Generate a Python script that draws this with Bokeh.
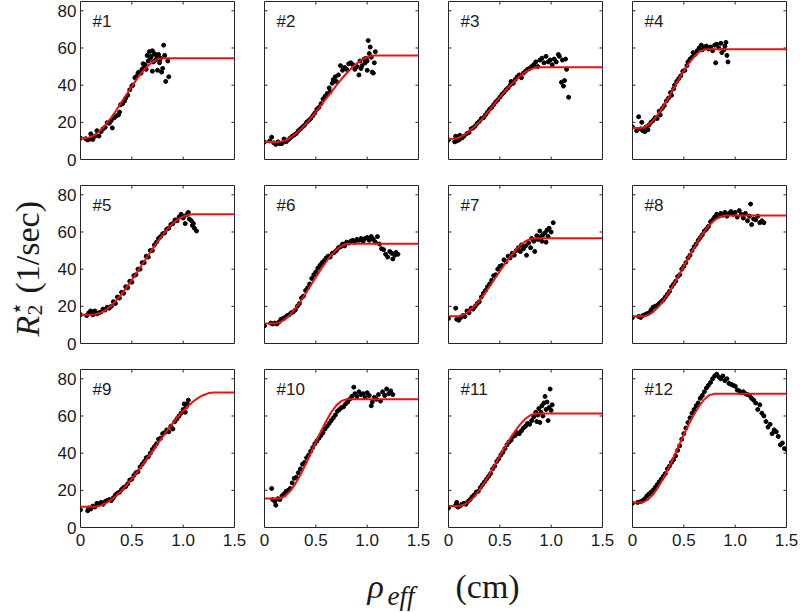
import math
from bokeh.plotting import figure
from bokeh.layouts import column, row
from bokeh.models import Range1d, LinearAxis, FixedTicker, Label
from bokeh.embed import file_html
from bokeh.resources import INLINE

# ---------------- data ----------------
X_RANGE = (0, 1.5)
Y_RANGE = (0, 85)
X_TICKS = [0, 0.5, 1.0, 1.5]
X_TICK_LABELS = ["0", "0.5", "1.0", "1.5"]
Y_TICKS = [0, 20, 40, 60, 80]
Y_TICK_LABELS = ["0", "20", "40", "60", "80"]
PANEL_LABELS = ["#1", "#2", "#3", "#4", "#5", "#6", "#7", "#8", "#9", "#10", "#11", "#12"]

CURVE_X = [0.0, 0.05, 0.1, 0.15, 0.2, 0.25, 0.3, 0.35, 0.4, 0.45, 0.5, 0.55, 0.6, 0.65, 0.7, 0.75,
           0.8, 0.85, 0.9, 0.95, 1.0, 1.05, 1.1, 1.15, 1.2, 1.25, 1.3, 1.35, 1.4, 1.45, 1.5]

FIT_1 = [11.5, 11.5, 12.0, 13.6, 16.0, 19.0, 22.6, 26.6, 30.9, 35.1, 39.4, 43.4, 47.0, 50.0, 52.4, 53.9,
         54.5, 54.5, 54.5, 54.5, 54.5, 54.5, 54.5, 54.5, 54.5, 54.5, 54.5, 54.5, 54.5, 54.5, 54.5]
FIT_2 = [9.4, 9.4, 9.4, 9.5, 10.3, 11.7, 13.7, 16.1, 19.0, 22.1, 25.5, 29.1, 32.7, 36.3, 39.9, 43.3,
         46.4, 49.3, 51.7, 53.7, 55.1, 55.9, 56.0, 56.0, 56.0, 56.0, 56.0, 56.0, 56.0, 56.0, 56.0]
FIT_3 = [11.0, 11.1, 11.7, 13.1, 15.0, 17.4, 20.2, 23.3, 26.6, 30.0, 33.4, 36.7, 39.8, 42.6, 45.1, 47.2,
         48.6, 49.5, 49.6, 49.6, 49.6, 49.6, 49.6, 49.6, 49.6, 49.6, 49.6, 49.6, 49.6, 49.6, 49.6]
FIT_4 = [17.0, 17.0, 17.1, 18.4, 20.9, 24.4, 28.6, 33.2, 38.2, 43.1, 47.7, 51.9, 55.4, 57.9, 59.2, 59.3,
         59.3, 59.3, 59.3, 59.3, 59.3, 59.3, 59.3, 59.3, 59.3, 59.3, 59.3, 59.3, 59.3, 59.3, 59.3]
FIT_5 = [15.5, 15.5, 15.5, 15.7, 16.6, 18.2, 20.5, 23.3, 26.6, 30.3, 34.2, 38.3, 42.5, 46.7, 50.8, 54.7,
         58.4, 61.7, 64.5, 66.8, 68.4, 69.3, 69.5, 69.5, 69.5, 69.5, 69.5, 69.5, 69.5, 69.5, 69.5]
FIT_6 = [10.7, 10.7, 10.7, 11.3, 13.0, 15.5, 18.8, 22.6, 26.8, 31.3, 35.7, 40.0, 44.0, 47.5, 50.4, 52.5,
         53.5, 53.6, 53.6, 53.6, 53.6, 53.6, 53.6, 53.6, 53.6, 53.6, 53.6, 53.6, 53.6, 53.6, 53.6]
FIT_7 = [14.6, 14.6, 14.7, 15.6, 17.4, 20.0, 23.1, 26.7, 30.7, 34.8, 38.9, 42.9, 46.7, 50.0, 52.9, 55.0,
         56.3, 56.6, 56.6, 56.6, 56.6, 56.6, 56.6, 56.6, 56.6, 56.6, 56.6, 56.6, 56.6, 56.6, 56.6]
FIT_8 = [14.6, 14.6, 14.6, 15.2, 16.9, 19.6, 23.1, 27.2, 31.7, 36.6, 41.7, 46.8, 51.6, 56.2, 60.3, 63.8,
         66.4, 68.1, 68.8, 68.8, 68.8, 68.8, 68.8, 68.8, 68.8, 68.8, 68.8, 68.8, 68.8, 68.8, 68.8]
FIT_9 = [11.1, 11.1, 11.1, 11.2, 11.9, 13.2, 15.0, 17.2, 19.8, 22.8, 26.1, 29.6, 33.4, 37.2, 41.1, 45.0,
         48.8, 52.6, 56.2, 59.6, 62.7, 65.5, 67.9, 69.9, 71.3, 72.3, 72.6, 72.6, 72.6, 72.6, 72.6]
FIT_10 = [15.6, 15.6, 15.6, 15.6, 16.8, 19.6, 23.5, 28.4, 33.9, 39.9, 45.9, 51.8, 57.2, 62.0, 65.7, 68.1,
          69.0, 69.0, 69.0, 69.0, 69.0, 69.0, 69.0, 69.0, 69.0, 69.0, 69.0, 69.0, 69.0, 69.0, 69.0]
FIT_11 = [11.6, 11.6, 11.6, 12.2, 14.0, 16.6, 20.1, 24.2, 28.7, 33.5, 38.4, 43.2, 47.8, 52.0, 55.6, 58.5,
          60.5, 61.3, 61.3, 61.3, 61.3, 61.3, 61.3, 61.3, 61.3, 61.3, 61.3, 61.3, 61.3, 61.3, 61.3]
FIT_12 = [13.4, 13.4, 13.5, 15.0, 17.7, 21.7, 26.5, 31.9, 37.8, 43.9, 50.0, 55.7, 60.9, 65.4, 69.0, 71.2,
          72.0, 72.0, 72.0, 72.0, 72.0, 72.0, 72.0, 72.0, 72.0, 72.0, 72.0, 72.0, 72.0, 72.0, 72.0]

X1 = [0.00, 0.05, 0.07, 0.09, 0.10, 0.12, 0.14, 0.16, 0.18, 0.20,
      0.22, 0.24, 0.26, 0.28, 0.30, 0.31, 0.33, 0.35, 0.37, 0.38,
      0.39, 0.41, 0.43, 0.44, 0.46, 0.48, 0.50, 0.51, 0.53, 0.54,
      0.56, 0.57, 0.59, 0.60, 0.61, 0.62, 0.63, 0.64, 0.65, 0.66,
      0.67, 0.68, 0.69, 0.70, 0.70, 0.71, 0.72, 0.73, 0.74, 0.74,
      0.75, 0.76, 0.77, 0.77, 0.78, 0.79, 0.80, 0.81, 0.82, 0.83,
      0.85, 0.86]
Y1 = [11.5, 11.2, 10.5, 11.0, 13.8, 10.8, 12.5, 15.5, 12.6, 15.0,
      16.5, 17.3, 19.8, 19.5, 21.0, 17.0, 22.5, 23.5, 24.0, 25.5,
      29.5, 30.0, 31.5, 33.0, 34.5, 37.5, 39.5, 40.0, 44.0, 44.5,
      46.5, 47.0, 46.5, 48.5, 51.5, 50.0, 51.0, 48.5, 56.0, 53.0,
      58.0, 54.5, 55.5, 47.5, 58.5, 52.5, 57.0, 53.5, 56.0, 54.0,
      48.0, 56.5, 53.5, 52.0, 54.5, 47.0, 49.0, 61.5, 56.0, 42.0,
      53.0, 44.5]

X2 = [0.00, 0.05, 0.07, 0.09, 0.11, 0.13, 0.15, 0.17, 0.19, 0.21,
      0.23, 0.25, 0.27, 0.29, 0.31, 0.33, 0.35, 0.37, 0.39, 0.41,
      0.43, 0.45, 0.47, 0.49, 0.51, 0.53, 0.55, 0.57, 0.59, 0.61,
      0.63, 0.64, 0.66, 0.67, 0.69, 0.70, 0.72, 0.74, 0.76, 0.78,
      0.80, 0.82, 0.84, 0.86, 0.88, 0.90, 0.92, 0.93, 0.94, 0.95,
      0.97, 0.98, 0.99, 1.00, 1.00, 1.01, 1.02, 1.03, 1.04, 1.05,
      1.06, 1.07, 1.08]
Y2 = [9.4, 10.0, 12.0, 9.0, 8.1, 9.5, 8.5, 8.6, 11.0, 9.5,
      10.5, 11.5, 12.5, 13.2, 14.0, 15.5, 16.5, 17.5, 18.5, 20.0,
      21.0, 22.0, 23.5, 25.0, 27.0, 28.0, 30.0, 32.5, 34.0, 35.5,
      38.5, 36.5, 41.0, 43.0, 44.5, 42.0, 45.5, 50.5, 48.0, 49.5,
      48.5, 51.5, 52.0, 51.0, 48.5, 50.0, 45.5, 53.0, 49.0, 50.5,
      54.0, 52.0, 54.5, 53.0, 48.0, 64.0, 57.0, 60.5, 55.0, 47.0,
      46.5, 52.0, 58.0]

X3 = [0.00, 0.06, 0.07, 0.08, 0.10, 0.11, 0.13, 0.15, 0.18, 0.20,
      0.22, 0.24, 0.26, 0.28, 0.30, 0.32, 0.34, 0.36, 0.38, 0.40,
      0.42, 0.44, 0.46, 0.48, 0.50, 0.52, 0.54, 0.56, 0.58, 0.60,
      0.61, 0.63, 0.65, 0.67, 0.69, 0.71, 0.73, 0.75, 0.77, 0.79,
      0.81, 0.83, 0.85, 0.87, 0.89, 0.91, 0.93, 0.95, 0.97, 0.99,
      1.01, 1.03, 1.05, 1.07, 1.08, 1.10, 1.11, 1.12, 1.13, 1.14,
      1.15, 1.17]
Y3 = [10.5, 9.5, 12.5, 10.0, 10.5, 13.0, 11.5, 12.5, 14.0, 14.5,
      16.5, 17.0, 18.0, 19.5, 20.5, 22.0, 22.5, 24.0, 25.5, 27.0,
      28.0, 29.5, 31.0, 32.0, 33.5, 35.0, 36.0, 37.5, 38.5, 40.0,
      42.0, 41.0, 43.0, 44.5, 45.5, 44.0, 46.5, 47.5, 48.5, 49.0,
      50.0, 51.0, 52.5, 50.0, 53.5, 54.5, 52.0, 55.5, 52.5, 53.5,
      51.0, 54.0, 52.5, 56.5, 55.5, 41.5, 53.5, 39.5, 42.5, 54.0,
      48.5, 33.5]

X4 = [0.00, 0.04, 0.06, 0.08, 0.09, 0.10, 0.12, 0.13, 0.15, 0.16,
      0.18, 0.20, 0.22, 0.24, 0.26, 0.27, 0.29, 0.31, 0.33, 0.35,
      0.37, 0.38, 0.40, 0.41, 0.43, 0.45, 0.47, 0.49, 0.51, 0.53,
      0.54, 0.56, 0.58, 0.59, 0.61, 0.63, 0.65, 0.67, 0.68, 0.70,
      0.72, 0.74, 0.76, 0.78, 0.80, 0.81, 0.82, 0.84, 0.86, 0.87,
      0.89, 0.90, 0.91, 0.92, 0.93]
Y4 = [17.5, 15.5, 23.0, 16.5, 20.0, 15.5, 15.0, 17.5, 16.0, 18.5,
      20.0, 21.0, 22.5, 22.0, 26.0, 24.0, 27.5, 29.0, 31.5, 33.0,
      36.0, 34.5, 38.0, 40.0, 42.0, 43.5, 45.0, 47.5, 48.0, 50.5,
      52.5, 54.0, 55.0, 57.5, 56.5, 58.5, 60.0, 61.5, 59.0, 60.5,
      61.0, 59.5, 60.5, 58.5, 61.5, 52.0, 62.0, 60.0, 62.5, 57.5,
      59.0, 61.0, 63.0, 56.0, 52.5]

X5 = [0.00, 0.06, 0.08, 0.10, 0.12, 0.14, 0.16, 0.18, 0.20, 0.22,
      0.24, 0.26, 0.28, 0.30, 0.32, 0.34, 0.36, 0.38, 0.40, 0.42,
      0.44, 0.46, 0.48, 0.50, 0.52, 0.54, 0.56, 0.58, 0.60, 0.62,
      0.64, 0.66, 0.68, 0.70, 0.72, 0.74, 0.76, 0.78, 0.80, 0.82,
      0.84, 0.86, 0.88, 0.90, 0.92, 0.94, 0.96, 0.98, 1.00, 1.01,
      1.02, 1.04, 1.05, 1.06, 1.08, 1.09, 1.10, 1.11, 1.13]
Y5 = [15.5, 15.0, 16.5, 17.5, 15.5, 17.5, 16.0, 16.5, 17.0, 18.5,
      18.0, 19.5, 19.0, 20.0, 22.5, 21.5, 25.0, 24.5, 27.5, 27.0,
      30.5, 30.0, 33.5, 33.0, 36.5, 37.0, 40.0, 40.0, 43.5, 43.5,
      47.0, 46.5, 50.0, 50.0, 53.0, 54.5, 56.5, 57.5, 59.0, 59.5,
      61.5, 62.0, 64.0, 64.5, 66.5, 66.0, 68.0, 69.5, 67.5, 68.5,
      64.5, 69.5, 70.5, 67.0, 66.0, 63.5, 64.5, 62.0, 60.5]

X6 = [0.00, 0.06, 0.08, 0.10, 0.12, 0.14, 0.16, 0.18, 0.20, 0.22,
      0.24, 0.26, 0.28, 0.30, 0.32, 0.34, 0.36, 0.38, 0.40, 0.42,
      0.44, 0.46, 0.48, 0.50, 0.52, 0.54, 0.56, 0.58, 0.60, 0.62,
      0.64, 0.66, 0.68, 0.70, 0.72, 0.74, 0.76, 0.78, 0.80, 0.82,
      0.84, 0.86, 0.88, 0.90, 0.92, 0.94, 0.96, 0.98, 1.00, 1.02,
      1.04, 1.06, 1.08, 1.10, 1.12, 1.14, 1.16, 1.18, 1.20, 1.22,
      1.24, 1.25, 1.27, 1.28, 1.30]
Y6 = [9.5, 11.0, 10.5, 11.0, 10.5, 11.5, 13.0, 13.5, 14.0, 15.0,
      15.5, 16.5, 17.0, 18.0, 20.0, 21.5, 24.5, 25.5, 28.5, 30.0,
      32.0, 35.0, 37.0, 38.5, 40.5, 42.0, 43.5, 44.5, 46.0, 47.0,
      46.5, 48.5, 49.0, 50.0, 51.5, 52.0, 53.5, 52.5, 54.5, 54.0,
      55.0, 55.5, 54.5, 56.0, 55.5, 56.5, 55.0, 56.5, 57.0, 55.5,
      57.5, 56.0, 54.5, 57.5, 53.5, 51.0, 50.5, 48.0, 46.5, 49.5,
      48.5, 45.5, 47.5, 49.0, 48.0]

X7 = [0.00, 0.07, 0.08, 0.10, 0.12, 0.14, 0.16, 0.18, 0.20, 0.22,
      0.24, 0.26, 0.28, 0.30, 0.32, 0.34, 0.36, 0.38, 0.40, 0.42,
      0.44, 0.46, 0.48, 0.50, 0.52, 0.54, 0.56, 0.58, 0.60, 0.62,
      0.64, 0.66, 0.68, 0.70, 0.71, 0.73, 0.75, 0.76, 0.78, 0.80,
      0.81, 0.83, 0.84, 0.86, 0.87, 0.89, 0.90, 0.91, 0.92, 0.94,
      0.95, 0.96, 0.97, 0.98, 1.00, 1.02]
Y7 = [13.5, 19.0, 13.0, 12.5, 14.0, 15.0, 14.5, 17.5, 16.5, 19.0,
      18.5, 20.0, 21.5, 22.5, 25.0, 27.0, 28.5, 30.5, 32.0, 34.0,
      36.5, 37.0, 40.0, 41.5, 42.0, 45.0, 44.0, 47.0, 46.0, 48.5,
      47.5, 50.0, 51.5, 49.5, 53.0, 51.0, 52.5, 47.5, 54.0, 51.5,
      56.5, 55.0, 49.5, 58.0, 56.0, 60.5, 57.5, 55.0, 58.5, 59.5,
      54.5, 61.0, 57.5, 62.0, 60.0, 65.0]

X8 = [0.00, 0.06, 0.08, 0.10, 0.12, 0.14, 0.16, 0.18, 0.20, 0.22,
      0.24, 0.26, 0.28, 0.30, 0.32, 0.34, 0.36, 0.38, 0.40, 0.42,
      0.44, 0.46, 0.48, 0.50, 0.52, 0.54, 0.56, 0.58, 0.60, 0.62,
      0.64, 0.66, 0.68, 0.70, 0.72, 0.74, 0.76, 0.78, 0.80, 0.82,
      0.84, 0.86, 0.88, 0.90, 0.92, 0.94, 0.96, 0.98, 1.00, 1.02,
      1.04, 1.06, 1.08, 1.10, 1.12, 1.14, 1.15, 1.16, 1.18, 1.20,
      1.22, 1.24, 1.26, 1.28]
Y8 = [14.0, 14.5, 14.0, 15.0, 15.5, 16.0, 16.5, 18.0, 19.5, 20.0,
      20.5, 21.5, 22.5, 23.5, 25.0, 26.5, 28.0, 30.5, 32.0, 33.5,
      36.0, 37.0, 40.0, 41.5, 43.5, 46.0, 47.5, 50.0, 52.0, 53.5,
      55.5, 57.0, 58.5, 60.5, 61.5, 63.0, 65.5, 66.5, 68.0, 69.5,
      68.5, 70.0, 69.0, 70.5, 68.5, 70.0, 71.0, 69.5, 70.5, 68.0,
      71.5, 69.5, 67.5, 70.0, 66.0, 68.5, 75.0, 64.0, 67.0, 66.5,
      68.5, 65.0, 66.0, 65.0]

X9 = [0.00, 0.07, 0.08, 0.10, 0.12, 0.14, 0.16, 0.18, 0.20, 0.22,
      0.24, 0.26, 0.28, 0.30, 0.32, 0.34, 0.36, 0.38, 0.40, 0.42,
      0.44, 0.46, 0.48, 0.50, 0.52, 0.54, 0.56, 0.58, 0.60, 0.62,
      0.64, 0.66, 0.68, 0.70, 0.72, 0.74, 0.76, 0.78, 0.80, 0.82,
      0.84, 0.86, 0.88, 0.90, 0.92, 0.94, 0.96, 0.98, 1.00, 1.01,
      1.02, 1.03, 1.04, 1.05]
Y9 = [9.5, 9.0, 10.5, 10.0, 11.5, 11.0, 13.0, 12.5, 13.5, 12.5,
      14.0, 14.5, 15.0, 14.5, 16.0, 17.5, 18.5, 19.0, 20.5, 21.5,
      22.0, 23.5, 25.5, 26.0, 28.0, 29.5, 30.0, 32.5, 34.0, 35.5,
      37.5, 38.0, 40.0, 42.0, 43.5, 45.0, 47.5, 48.0, 50.5, 51.0,
      52.5, 51.5, 54.5, 53.0, 57.0, 58.5, 60.0, 61.5, 63.5, 66.5,
      62.0, 65.0, 66.5, 68.5]

X10 = [0.07, 0.08, 0.10, 0.11, 0.13, 0.15, 0.17, 0.19, 0.21, 0.23,
       0.25, 0.27, 0.29, 0.31, 0.33, 0.35, 0.37, 0.39, 0.41, 0.43,
       0.45, 0.47, 0.49, 0.51, 0.53, 0.55, 0.57, 0.59, 0.61, 0.63,
       0.65, 0.67, 0.69, 0.71, 0.73, 0.75, 0.77, 0.79, 0.81, 0.83,
       0.85, 0.87, 0.88, 0.90, 0.92, 0.94, 0.96, 0.98, 1.00, 1.02,
       1.04, 1.05, 1.07, 1.09, 1.11, 1.13, 1.15, 1.17, 1.19, 1.21,
       1.23, 1.25]
Y10 = [21.0, 15.0, 14.0, 12.0, 15.5, 15.0, 17.0, 18.0, 19.5, 20.0,
       21.0, 24.0, 26.5, 27.0, 29.5, 31.5, 34.0, 35.0, 37.5, 39.0,
       41.0, 43.0, 45.0, 46.5, 48.0, 49.5, 51.0, 53.0, 54.5, 56.0,
       57.5, 59.0, 60.5, 62.5, 63.5, 64.5, 65.0, 66.5, 67.5, 69.0,
       70.5, 75.5, 72.0, 70.5, 73.0, 71.5, 72.0, 70.0, 72.5, 71.0,
       65.5, 67.5, 70.0, 69.0, 71.5, 68.0, 73.0, 71.0, 74.5, 72.0,
       73.5, 71.5]

X11 = [0.00, 0.07, 0.08, 0.09, 0.11, 0.13, 0.15, 0.17, 0.19, 0.21,
       0.23, 0.25, 0.27, 0.29, 0.31, 0.33, 0.35, 0.37, 0.39, 0.41,
       0.43, 0.45, 0.47, 0.49, 0.51, 0.53, 0.55, 0.57, 0.59, 0.61,
       0.63, 0.65, 0.67, 0.69, 0.71, 0.73, 0.75, 0.77, 0.79, 0.81,
       0.83, 0.85, 0.86, 0.87, 0.88, 0.89, 0.90, 0.91, 0.92, 0.93,
       0.94, 0.95, 0.96, 0.97, 0.98, 0.99, 1.00, 1.01]
Y11 = [10.5, 12.0, 13.5, 11.0, 11.5, 12.5, 13.0, 12.5, 14.0, 15.0,
       16.5, 17.5, 19.0, 19.5, 21.5, 23.0, 24.5, 26.0, 27.5, 29.0,
       31.5, 33.0, 35.5, 37.0, 39.0, 40.5, 42.5, 44.5, 46.0, 47.0,
       49.0, 49.5, 51.0, 50.5, 52.0, 53.5, 54.5, 56.0, 55.5, 57.5,
       59.5, 62.0, 57.0, 60.5, 64.0, 56.5, 62.0, 65.5, 60.0, 67.0,
       70.5, 63.5, 67.5, 57.5, 64.5, 74.5, 63.0, 66.0]

X12 = [0.00, 0.05, 0.08, 0.10, 0.12, 0.14, 0.16, 0.18, 0.20, 0.22,
       0.24, 0.26, 0.28, 0.30, 0.32, 0.34, 0.36, 0.38, 0.40, 0.42,
       0.44, 0.46, 0.48, 0.50, 0.52, 0.54, 0.56, 0.58, 0.60, 0.62,
       0.64, 0.66, 0.68, 0.70, 0.72, 0.74, 0.76, 0.78, 0.80, 0.82,
       0.84, 0.86, 0.88, 0.90, 0.92, 0.94, 0.96, 0.98, 1.00, 1.02,
       1.04, 1.06, 1.08, 1.10, 1.12, 1.14, 1.16, 1.18, 1.20, 1.22,
       1.24, 1.26, 1.28, 1.30, 1.32, 1.34, 1.36, 1.38, 1.40, 1.42,
       1.44, 1.46, 1.48, 1.50]
Y12 = [13.0, 13.5, 14.0, 14.5, 15.5, 17.0, 18.0, 19.0, 20.0, 21.5,
       23.0, 24.5, 26.0, 27.5, 29.0, 31.5, 33.0, 35.0, 36.5, 38.5,
       41.5, 44.0, 47.5, 50.5, 53.5, 56.5, 59.0, 61.5, 63.5, 65.5,
       67.0, 69.5, 71.0, 73.0, 75.0, 76.5, 78.0, 80.0, 81.5, 82.5,
       81.0, 80.0, 81.5, 79.0, 80.0, 77.5, 77.0, 76.5, 76.0, 74.0,
       73.5, 72.5, 73.0, 72.0, 71.5, 71.0, 69.5, 68.5, 67.0, 63.5,
       66.0, 61.5, 60.0, 57.0, 54.0, 55.5, 50.5, 52.5, 51.5, 49.0,
       44.5, 45.5, 42.5, 42.0]

DOTS_X = [X1, X2, X3, X4, X5, X6, X7, X8, X9, X10, X11, X12]
DOTS_Y = [Y1, Y2, Y3, Y4, Y5, Y6, Y7, Y8, Y9, Y10, Y11, Y12]
FITS = [FIT_1, FIT_2, FIT_3, FIT_4, FIT_5, FIT_6, FIT_7, FIT_8, FIT_9, FIT_10, FIT_11, FIT_12]

# ---------------- layout / style ----------------
FRAME_W = 154
FRAME_H = 158
YTITLE_W = 48
COL_LEFT = [32, 15, 15, 15]
COL_RIGHT = [15, 15, 15, 14]
ROW_TOP = [1, 13, 13]
ROW_BOTTOM = [13, 13, 30]
XTITLE_H = 54

AX_COLOR = "#262626"
TXT_COLOR = "#1a1a1a"
SANS = "Liberation Sans"
SERIF = "Liberation Serif"
TICK_SIZE = "17px"
DOT_COLOR = "black"
FIT_COLOR = "#ee1111"
TICK_LEN = 3


def add_label_axis(p, side, ticks, labels, standoff):
    ax = LinearAxis(ticker=FixedTicker(ticks=ticks, minor_ticks=[]))
    ax.axis_line_color = None
    ax.major_tick_in = 0
    ax.major_tick_out = 0
    ax.minor_tick_in = 0
    ax.minor_tick_out = 0
    ax.major_label_overrides = {t: l for t, l in zip(ticks, labels)}
    ax.major_label_text_font = SANS
    ax.major_label_text_font_size = TICK_SIZE
    ax.major_label_text_color = TXT_COLOR
    ax.major_label_standoff = standoff
    p.add_layout(ax, side)


def add_inner_ticks(p):
    # inward tick marks on all four sides of the box
    n_x, n_y = len(X_TICKS), len(Y_TICKS)
    p.ray(x=X_TICKS, y=[Y_RANGE[0]] * n_x, length=TICK_LEN, length_units="screen",
          angle=math.pi / 2, line_color=AX_COLOR, line_width=1)
    p.ray(x=X_TICKS, y=[Y_RANGE[1]] * n_x, length=TICK_LEN, length_units="screen",
          angle=-math.pi / 2, line_color=AX_COLOR, line_width=1)
    p.ray(x=[X_RANGE[0]] * n_y, y=Y_TICKS, length=TICK_LEN, length_units="screen",
          angle=0, line_color=AX_COLOR, line_width=1)
    p.ray(x=[X_RANGE[1]] * n_y, y=Y_TICKS, length=TICK_LEN, length_units="screen",
          angle=math.pi, line_color=AX_COLOR, line_width=1)


def blank_strip(width, height):
    f = figure(width=width, height=height, x_range=Range1d(0, 1), y_range=Range1d(0, 1),
               x_axis_location=None, y_axis_location=None,
               min_border=0, min_border_left=0, min_border_right=0,
               min_border_top=0, min_border_bottom=0,
               output_backend="svg", toolbar_location=None)
    f.grid.visible = False
    f.outline_line_color = None
    f.background_fill_color = "white"
    f.border_fill_color = "white"
    return f


def math_label(f, x, y, text, size, italic=False, font=SERIF, angle=0.0):
    f.add_layout(Label(x=x, y=y, x_units="screen", y_units="screen", text=text,
                       angle=angle, text_font=font,
                       text_font_style="italic" if italic else "normal",
                       text_font_size=size, text_color=TXT_COLOR,
                       text_align="left", text_baseline="middle"))


figs = []
for i in range(12):
    r, c = divmod(i, 4)
    p = figure(width=COL_LEFT[c] + FRAME_W + COL_RIGHT[c],
               height=ROW_TOP[r] + FRAME_H + ROW_BOTTOM[r],
               x_range=Range1d(*X_RANGE), y_range=Range1d(*Y_RANGE),
               x_axis_location=None, y_axis_location=None,
               min_border_left=COL_LEFT[c], min_border_right=COL_RIGHT[c],
               min_border_top=ROW_TOP[r], min_border_bottom=ROW_BOTTOM[r],
               output_backend="svg", toolbar_location=None)
    p.grid.visible = False
    p.outline_line_color = AX_COLOR
    p.outline_line_width = 1
    p.background_fill_color = "white"
    p.border_fill_color = "white"

    if r == 2:
        add_label_axis(p, "below", X_TICKS, X_TICK_LABELS, 6)
    if c == 0:
        add_label_axis(p, "left", Y_TICKS, Y_TICK_LABELS, 4)
    add_inner_ticks(p)

    p.scatter(DOTS_X[i], DOTS_Y[i], size=4.0, fill_color=DOT_COLOR, line_color=DOT_COLOR)
    p.line(CURVE_X, FITS[i], line_color=FIT_COLOR, line_width=2)

    p.add_layout(Label(x=12, y=FRAME_H - 20, x_units="screen", y_units="screen",
                       text=PANEL_LABELS[i], text_font=SANS, text_font_size="17px",
                       text_color=TXT_COLOR, text_baseline="middle", text_align="left"))
    figs.append(p)

grid_h = sum(ROW_TOP) + 3 * FRAME_H + sum(ROW_BOTTOM)
total_w = YTITLE_W + sum(COL_LEFT) + 4 * FRAME_W + sum(COL_RIGHT)

# y-axis title: R*_2 (1/sec), rotated (reads bottom to top)
yt = blank_strip(YTITLE_W, grid_h)
rot = math.pi / 2
math_label(yt, 27, 221, "R", "34px", italic=True, angle=rot)
math_label(yt, 34, 242, "2", "22px", angle=rot)
math_label(yt, 16, 242, "\u22c6", "22px", font="DejaVu Sans", angle=rot)
math_label(yt, 27, 264, "(1/sec)", "34px", angle=rot)

# x-axis title: rho_eff (cm)
xt = blank_strip(total_w, XTITLE_H)
math_label(xt, 367, 25, "\u03c1", "34px", italic=True)
math_label(xt, 387, 16, "eff", "27px", italic=True)
math_label(xt, 455, 25, "(cm)", "34px")

grid = column(row(*figs[0:4]), row(*figs[4:8]), row(*figs[8:12]))
layout = column(row(yt, grid), xt)

open("out.html", "w").write(file_html(layout, INLINE))
